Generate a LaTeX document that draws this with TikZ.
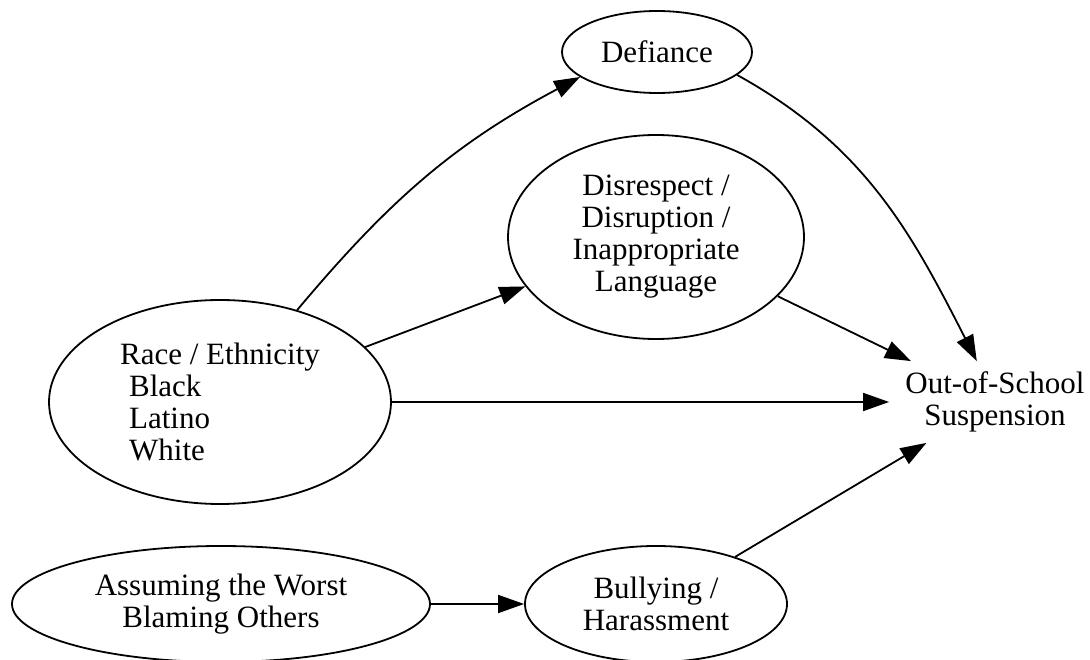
\documentclass[tikz,border=0pt]{standalone}
\usepackage{fontspec}
\setmainfont{Liberation Serif}
\usepackage{tikz}
\usetikzlibrary{shapes.geometric,arrows.meta}

\begin{document}
\begin{tikzpicture}[x=1pt,y=1pt,line width=1.8pt,>={Triangle[length=26pt,width=18pt]}]
\tikzstyle{every node}+=[inner sep=0pt,align=center,font=\fontsize{31}{32}\selectfont]
\tikzstyle{oval}=[draw,ellipse]
\useasboundingbox (0,0) rectangle (1090,-660);
\node [oval,minimum width=190pt,minimum height=82pt] (defiance) at (657,-52) {Defiance};
\node [oval,minimum width=296pt,minimum height=204pt] (disrespect) at (656,-237) {Disrespect /\\Disruption /\\Inappropriate\\Language};
\node [oval,minimum width=342pt,minimum height=204pt,align=left] (race) at (220,-402) {Race / Ethnicity\\\hspace*{9pt}Black\\\hspace*{9pt}Latino\\\hspace*{9pt}White};
\node [minimum width=210pt,minimum height=80pt] (out) at (995,-402) {Out-of-School\\Suspension};
\node [oval,minimum width=418pt,minimum height=116pt] (assuming) at (221,-604) {Assuming the Worst\\Blaming Others};
\node [oval,minimum width=262pt,minimum height=116pt] (bullying) at (656,-604) {Bullying /\\Harassment};
\draw [->] (race) to [out=50,in=208] (defiance.198);
\draw [->] (race) -- (disrespect);
\draw [->] (race) -- (out);
\draw [->] (defiance.344) to [out=-29,in=117] (out.114);
\draw [->] (disrespect) -- (out);
\draw [->] (bullying) -- (out);
\draw [->] (assuming) -- (bullying);
\end{tikzpicture}
\end{document}
